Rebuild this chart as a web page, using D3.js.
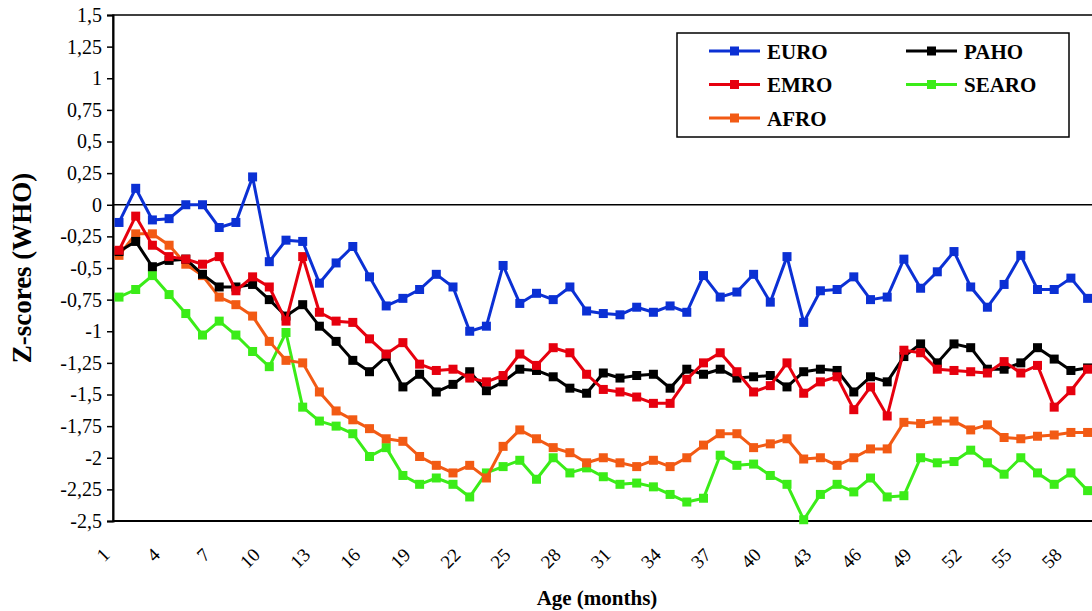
<!DOCTYPE html>
<html>
<head>
<meta charset="utf-8">
<script src="https://cdn.jsdelivr.net/npm/d3@7"></script>
<style>
  body { margin: 0; background: #fff; }
  svg { display: block; }
  svg text { font-family: 'Liberation Serif', 'Times New Roman', serif; }
</style>
</head>
<body>
<svg id="chart" width="1092" height="611"></svg>
<script>
// months 1..59 (chart is cropped on the right)
const months = d3.range(1, 60);
const xTickMonths = d3.range(1, 59, 3);
const yTicks = [1.5, 1.25, 1, 0.75, 0.5, 0.25, 0, -0.25, -0.5, -0.75, -1, -1.25, -1.5, -1.75, -2, -2.25, -2.5];

const euro = [-0.14, 0.13, -0.12, -0.11, 0.0, 0.0, -0.18, -0.14, 0.22, -0.45,
  -0.28, -0.29, -0.62, -0.46, -0.33, -0.57, -0.80, -0.74, -0.67, -0.55,
  -0.65, -1.0, -0.96, -0.48, -0.78, -0.70, -0.75, -0.65, -0.84, -0.86,
  -0.87, -0.81, -0.85, -0.80, -0.85, -0.56, -0.73, -0.69, -0.55, -0.77,
  -0.41, -0.93, -0.68, -0.67, -0.57, -0.75, -0.73, -0.43, -0.66, -0.53,
  -0.37, -0.65, -0.81, -0.63, -0.40, -0.67, -0.67, -0.58, -0.74];

const paho = [-0.37, -0.29, -0.49, -0.44, -0.43, -0.55, -0.65, -0.65, -0.63, -0.75,
  -0.88, -0.79, -0.96, -1.08, -1.23, -1.32, -1.20, -1.44, -1.34, -1.48,
  -1.42, -1.32, -1.47, -1.40, -1.30, -1.31, -1.36, -1.45, -1.49, -1.33,
  -1.37, -1.35, -1.34, -1.45, -1.30, -1.34, -1.30, -1.37, -1.36, -1.35,
  -1.44, -1.32, -1.30, -1.31, -1.48, -1.36, -1.40, -1.20, -1.10, -1.25,
  -1.10, -1.13, -1.30, -1.30, -1.25, -1.13, -1.22, -1.31, -1.29];

const emro = [-0.36, -0.09, -0.32, -0.41, -0.43, -0.47, -0.41, -0.68, -0.57, -0.65,
  -0.92, -0.41, -0.85, -0.92, -0.93, -1.06, -1.18, -1.09, -1.26, -1.31,
  -1.30, -1.37, -1.40, -1.35, -1.18, -1.27, -1.13, -1.17, -1.34, -1.46,
  -1.48, -1.52, -1.57, -1.57, -1.38, -1.25, -1.17, -1.32, -1.48, -1.43,
  -1.25, -1.49, -1.40, -1.36, -1.62, -1.44, -1.67, -1.15, -1.17, -1.30,
  -1.31, -1.32, -1.33, -1.24, -1.33, -1.27, -1.60, -1.47, -1.30];

const searo = [-0.73, -0.67, -0.56, -0.71, -0.86, -1.03, -0.92, -1.03, -1.16, -1.28,
  -1.01, -1.60, -1.71, -1.75, -1.81, -1.99, -1.92, -2.14, -2.21, -2.16,
  -2.21, -2.31, -2.12, -2.07, -2.02, -2.17, -2.0, -2.12, -2.08, -2.15,
  -2.21, -2.20, -2.23, -2.29, -2.35, -2.32, -1.98, -2.06, -2.05, -2.14,
  -2.21, -2.49, -2.29, -2.21, -2.27, -2.16, -2.31, -2.30, -2.0, -2.04,
  -2.03, -1.94, -2.04, -2.13, -2.0, -2.12, -2.21, -2.12, -2.26];

const afro = [-0.40, -0.23, -0.23, -0.32, -0.47, -0.56, -0.73, -0.79, -0.88, -1.08,
  -1.23, -1.25, -1.48, -1.63, -1.70, -1.77, -1.85, -1.87, -1.99, -2.06,
  -2.12, -2.06, -2.16, -1.91, -1.78, -1.85, -1.92, -1.96, -2.04, -2.0,
  -2.04, -2.07, -2.02, -2.07, -2.0, -1.90, -1.81, -1.81, -1.92, -1.89,
  -1.85, -2.01, -2.0, -2.06, -2.0, -1.93, -1.93, -1.72, -1.73, -1.71,
  -1.71, -1.78, -1.74, -1.84, -1.85, -1.83, -1.82, -1.80, -1.80];

const series = [
  { name: 'SEARO', values: searo, color: '#3bec18' },
  { name: 'AFRO', values: afro, color: '#f25a14' },
  { name: 'PAHO', values: paho, color: '#000000' },
  { name: 'EMRO', values: emro, color: '#e6000e' },
  { name: 'EURO', values: euro, color: '#0b30d4' }
];

const legendItems = [
  { name: 'EURO', color: '#0b30d4', col: 0, row: 0 },
  { name: 'PAHO', color: '#000000', col: 1, row: 0 },
  { name: 'EMRO', color: '#e6000e', col: 0, row: 1 },
  { name: 'SEARO', color: '#3bec18', col: 1, row: 1 },
  { name: 'AFRO', color: '#f25a14', col: 0, row: 2 }
];

const serif = 'Liberation Serif';
const svg = d3.select('#chart');
const plotLeft = 113, plotTop = 15, plotBottom = 521, plotRight = 1115;

const x = d3.scaleLinear().domain([1, 60]).range([119, 119 + 59 * 16.7]);
const y = d3.scaleLinear().domain([-2.5, 1.5]).range([plotBottom, plotTop]);
const fmt = v => String(v).replace('.', ',');

// frame
svg.append('rect')
  .attr('x', plotLeft).attr('y', plotTop)
  .attr('width', plotRight - plotLeft).attr('height', plotBottom - plotTop)
  .attr('fill', 'none').attr('stroke', '#000').attr('stroke-width', 1.5);

// zero line
svg.append('line')
  .attr('x1', plotLeft).attr('x2', plotRight)
  .attr('y1', y(0)).attr('y2', y(0))
  .attr('stroke', '#000').attr('stroke-width', 1.5);

// y axis
const yAxis = d3.axisLeft(y).tickValues(yTicks).tickSize(6).tickPadding(5).tickFormat(fmt);
const gy = svg.append('g').attr('transform', `translate(${plotLeft},0)`).call(yAxis);
gy.attr('font-family', serif).attr('font-size', 20);
gy.select('.domain').attr('stroke-width', 2);
gy.selectAll('.tick line').attr('stroke-width', 1.5);
gy.selectAll('.tick text').attr('fill', '#000');

// x axis line
svg.append('line')
  .attr('x1', plotLeft).attr('x2', plotRight)
  .attr('y1', plotBottom).attr('y2', plotBottom)
  .attr('stroke', '#000').attr('stroke-width', 2);

// x tick labels, rotated 45 degrees
svg.append('g')
  .selectAll('g')
  .data(xTickMonths)
  .join('g')
  .attr('transform', d => `translate(${x(d) - 8},${plotBottom + 35})`)
  .append('text')
  .attr('transform', 'rotate(-45)')
  .attr('text-anchor', 'end')
  .attr('font-size', 19)
  .text(d => d);

// titles
svg.append('text')
  .attr('x', 597).attr('y', 605)
  .attr('text-anchor', 'middle')
  .attr('font-weight', 'bold').attr('font-size', 21)
  .text('Age (months)');

svg.append('text')
  .attr('transform', 'translate(31,268) rotate(-90)')
  .attr('text-anchor', 'middle')
  .attr('font-weight', 'bold').attr('font-size', 27)
  .text('Z-scores (WHO)');

// series
const line = d3.line().x((d, i) => x(months[i])).y(d => y(d));

series.forEach(s => {
  const g = svg.append('g');
  g.append('path')
    .datum(s.values)
    .attr('fill', 'none')
    .attr('stroke', s.color)
    .attr('stroke-width', 3)
    .attr('stroke-linejoin', 'round')
    .attr('d', line);
  g.selectAll('rect')
    .data(s.values)
    .join('rect')
    .attr('x', (d, i) => x(months[i]) - 4.5)
    .attr('y', d => y(d) - 4.5)
    .attr('width', 9).attr('height', 9)
    .attr('fill', s.color);
});

// legend
const legend = svg.append('g');
legend.append('rect')
  .attr('x', 677).attr('y', 33)
  .attr('width', 392).attr('height', 104)
  .attr('fill', '#fff').attr('stroke', '#000').attr('stroke-width', 1.5);

const lg = legend.selectAll('g.item')
  .data(legendItems)
  .join('g')
  .attr('class', 'item')
  .attr('transform', d => `translate(${709 + d.col * 197},${51 + d.row * 33.5})`);

lg.append('line')
  .attr('x1', 0).attr('x2', 51)
  .attr('stroke', d => d.color).attr('stroke-width', 3);
lg.append('rect')
  .attr('x', 21).attr('y', -4.5)
  .attr('width', 9).attr('height', 9)
  .attr('fill', d => d.color);
lg.append('text')
  .attr('x', 58).attr('y', 7.5)
  .attr('font-weight', 'bold').attr('font-size', 21)
  .text(d => d.name);
</script>
</body>
</html>
